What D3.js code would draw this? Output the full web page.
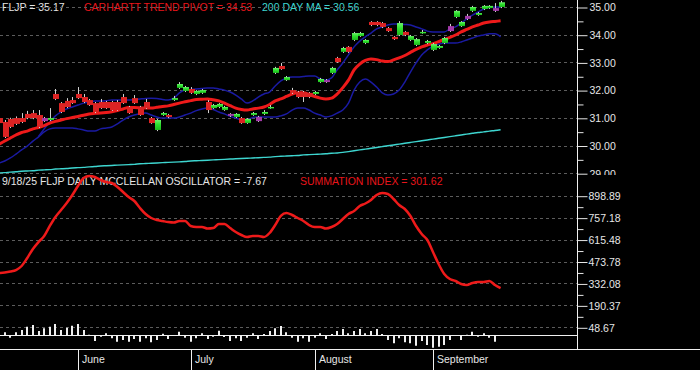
<!DOCTYPE html>
<html><head><meta charset="utf-8">
<script src="https://cdn.jsdelivr.net/npm/d3@7"></script>
<style>html,body{margin:0;padding:0;background:#000;overflow:hidden}svg{display:block}</style>
</head><body><svg id="c" width="700" height="370"></svg>
<script>
// ---- data (bar index 0 = mid-May 2025 ... 89 = 9/18/25) ----
const opens = [30.99,30.85,30.96,30.99,30.99,31.14,31.17,31.10,30.99,30.92,
31.86,31.53,31.61,31.64,31.86,31.75,31.64,31.53,31.57,31.57,
31.57,31.57,31.75,31.39,31.71,31.39,31.57,30.99,30.56,31.10,
31.10,31.64,32.08,31.97,32.04,31.86,31.90,31.57,31.35,31.39,
31.28,31.14,31.03,30.99,30.81,31.10,31.03,31.14,31.35,32.62,
32.87,32.36,32.00,31.93,31.93,31.90,31.86,32.29,32.36,32.62,
33.16,33.38,33.56,33.81,33.95,33.70,34.46,34.46,34.42,34.24,
33.92,33.99,34.10,33.81,33.63,34.06,33.70,33.45,33.52,33.70,
34.31,34.64,34.31,34.68,34.86,34.71,34.93,34.96,34.96,35.00];
const highs = [31.03,30.92,31.00,31.05,31.17,31.25,31.28,31.28,31.03,31.35,
32.04,31.57,31.71,31.75,32.11,31.86,31.68,31.57,31.68,31.61,
31.61,31.64,31.86,31.43,31.82,31.43,31.68,31.03,30.96,31.21,
31.14,31.79,32.29,32.15,32.11,32.00,32.04,31.64,31.50,31.53,
31.43,31.17,31.17,31.03,30.99,31.21,31.07,31.28,31.46,32.84,
32.98,32.51,32.08,31.97,31.97,31.93,31.97,32.44,32.40,32.84,
33.20,33.56,33.59,34.10,34.10,33.84,34.49,34.49,34.46,34.28,
33.95,34.49,34.13,33.99,33.88,34.17,33.81,33.70,33.63,33.92,
34.39,34.89,34.49,34.75,35.04,34.82,35.07,35.07,35.14,35.22];
const lows = [30.77,30.27,30.63,30.74,30.81,30.95,30.95,30.63,30.85,30.88,
31.64,31.17,31.35,31.50,31.68,31.53,31.43,31.17,31.32,31.32,
31.25,31.25,31.50,31.14,31.50,31.07,31.32,30.78,30.52,31.07,
30.99,31.61,32.04,31.93,31.86,31.82,31.86,31.17,31.32,31.35,
31.25,31.03,30.99,30.78,30.78,31.07,30.85,31.10,31.32,32.58,
32.73,32.33,31.86,31.71,31.57,31.71,31.82,32.26,32.26,32.58,
32.98,33.34,33.34,33.77,33.92,33.66,34.31,34.31,34.24,34.10,
33.81,33.95,33.95,33.77,33.59,34.03,33.66,33.41,33.49,33.66,
34.10,34.60,34.28,34.53,34.82,34.68,34.89,34.93,34.82,34.96];
const closes = [30.81,30.31,30.67,30.78,30.85,30.99,30.99,30.67,30.88,30.99,
31.68,31.21,31.39,31.53,31.71,31.57,31.46,31.21,31.35,31.35,
31.28,31.28,31.53,31.17,31.53,31.10,31.35,30.81,30.92,31.17,
31.03,31.71,32.22,32.11,31.90,31.97,32.00,31.28,31.46,31.50,
31.39,31.07,31.14,30.81,30.96,31.17,30.88,31.21,31.39,32.80,
32.76,32.47,31.90,31.75,31.75,31.75,31.93,32.40,32.29,32.80,
33.01,33.52,33.38,34.06,34.06,33.81,34.35,34.35,34.28,34.13,
33.84,34.42,33.99,33.95,33.84,34.10,33.77,33.66,33.59,33.88,
34.13,34.86,34.46,34.57,35.00,34.78,35.04,35.04,34.86,35.17];
const neutralBars = [8,41,46,58,80,83,88];
const pivot = [30.04,30.16,30.27,30.38,30.47,30.52,30.60,30.65,30.72,30.81,
30.87,30.92,30.97,31.01,31.05,31.09,31.14,31.16,31.17,31.19,
31.22,31.26,31.32,31.37,31.37,31.36,31.35,31.35,31.38,31.41,
31.43,31.48,31.53,31.58,31.62,31.66,31.67,31.68,31.65,31.61,
31.53,31.44,31.35,31.30,31.28,31.32,31.35,31.39,31.48,31.61,
31.68,31.77,31.86,31.90,31.90,31.84,31.77,31.71,31.68,31.71,
31.86,32.09,32.36,32.73,32.94,33.07,33.12,33.10,33.05,33.03,
33.09,33.16,33.25,33.36,33.47,33.56,33.63,33.68,33.75,33.83,
33.90,33.99,34.10,34.19,34.28,34.35,34.42,34.46,34.48,34.50];
const upperBand = [null,null,null,null,null,null,null,30.33,30.60,30.85,
31.07,31.21,31.32,31.39,31.46,31.53,31.57,31.61,31.61,31.62,
31.64,31.64,31.64,31.64,31.66,31.68,31.70,31.71,31.70,31.66,
31.64,31.71,31.90,32.00,32.02,32.04,32.06,32.08,32.08,32.04,
32.00,31.93,31.82,31.68,31.53,31.61,31.75,31.86,31.93,32.15,
32.33,32.44,32.47,32.47,32.49,32.51,32.51,32.40,32.36,32.44,
32.73,32.98,33.27,33.56,33.77,33.92,34.06,34.21,34.28,34.35,
34.39,34.39,34.37,34.35,34.28,34.21,34.13,34.10,34.10,34.10,
34.21,34.28,34.42,34.57,34.71,34.82,34.93,34.98,35.00,35.00];
const lowerBand = [29.37,29.44,29.55,29.69,29.84,29.98,30.16,30.31,30.49,30.60,
30.63,30.63,30.63,30.63,30.60,30.56,30.52,30.52,30.60,30.63,
30.67,30.78,30.92,31.03,31.10,31.15,31.17,31.10,31.03,30.99,
30.99,30.99,31.03,31.10,31.17,31.26,31.32,31.35,31.30,31.21,
31.14,31.05,30.99,30.93,30.92,31.01,31.03,31.03,31.03,31.03,
31.07,31.14,31.28,31.35,31.35,31.28,31.17,31.10,31.03,31.07,
31.17,31.28,31.53,32.00,32.29,32.40,32.29,32.11,31.90,31.82,
31.86,32.00,32.29,32.65,32.98,33.27,33.45,33.59,33.66,33.70,
33.70,33.70,33.74,33.81,33.88,33.95,33.99,34.03,34.03,33.92];
const ma200 = [29.01,29.02,29.04,29.05,29.07,29.08,29.09,29.11,29.12,29.13,
29.15,29.16,29.17,29.19,29.20,29.21,29.23,29.24,29.26,29.27,
29.28,29.29,29.30,29.31,29.32,29.34,29.35,29.36,29.37,29.38,
29.39,29.40,29.41,29.42,29.44,29.45,29.46,29.47,29.48,29.49,
29.50,29.51,29.52,29.53,29.54,29.55,29.56,29.57,29.58,29.60,
29.61,29.62,29.63,29.64,29.66,29.67,29.68,29.69,29.70,29.72,
29.73,29.75,29.78,29.81,29.84,29.87,29.90,29.93,29.96,29.99,
30.02,30.05,30.08,30.11,30.14,30.17,30.20,30.23,30.26,30.29,
30.32,30.35,30.38,30.41,30.44,30.47,30.49,30.52,30.54,30.57];
const summation = [399.4,402.7,409.1,418.8,444.6,496.3,554.5,599.7,638.5,703.3,
761.3,806.5,851.7,903.4,961.6,1013.3,1026.2,1019.7,1000.3,987.4,
980.9,955.1,922.8,890.5,864.6,819.4,780.6,754.8,741.9,735.4,
728.9,725.7,735.4,735.4,703.1,696.6,696.6,686.9,690.2,716.0,
716.0,690.2,664.3,645.0,632.0,638.5,638.5,632.0,657.9,709.6,
768.8,787.1,774.2,754.8,735.4,709.6,696.6,696.6,686.9,696.6,
716.0,748.3,780.6,800.0,832.3,848.5,871.1,903.4,916.3,909.9,
877.6,838.8,813.0,767.7,703.1,651.4,612.6,535.1,457.5,392.9,
360.6,347.7,328.3,321.9,334.8,341.3,341.3,347.7,321.9,301.62];
const oscillator = [58,22,-22,22,40,66,80,32,54,66,
88,40,58,74,88,40,2,-48,-14,14,
-26,-54,-40,-54,-32,-54,-26,-58,-40,10,
-32,-2,26,-22,-54,-26,14,-32,-14,34,
-16,-48,-26,-48,-22,14,-32,8,32,54,
72,22,-22,-54,-26,-54,-22,14,-32,8,
32,48,14,32,48,14,32,48,8,-40,
-66,-26,-58,-66,-86,-48,-80,-102,-94,-80,
-40,-2,-40,2,26,-14,14,-22,-54,-7.67];
const priceTicks = [29,30,31,32,33,34,35];
const sumTicks = [48.67,190.37,332.08,473.78,615.48,757.18,898.89];
const months = ["June","July","August","September"];
const monthStart = [14,34,56,77];
const headerTop = [
  {t:"FLJP = 35.17", c:"#e6e6e6"},
  {t:"CARHARTT  TREND PIVOT = 34.53", c:"#e8151b"},
  {t:"200 DAY MA = 30.56", c:"#3ed6d0"}];
const headerBottom = [
  {t:"9/18/25  FLJP DAILY MCCLELLAN OSCILLATOR = -7.67", c:"#e6e6e6"},
  {t:"SUMMATION INDEX = 301.62", c:"#e8151b"}];

// ---- drawing ----
(function () {
const W = 700, H = 370, AX = 577;
const FONT = "'Liberation Sans', Arial, sans-serif";
const svg = d3.select("#c");
svg.append("rect").attr("width", W).attr("height", H).attr("fill", "#000");

const defs = svg.append("defs");
const gUp = defs.append("linearGradient").attr("id", "gUp").attr("x1", 0).attr("x2", 0).attr("y1", 0).attr("y2", 1);
gUp.append("stop").attr("offset", "0%").attr("stop-color", "#6cf26c");
gUp.append("stop").attr("offset", "45%").attr("stop-color", "#2ee02e");
gUp.append("stop").attr("offset", "100%").attr("stop-color", "#1cb81c");

const bars = d3.range(closes.length);
const x = d3.scaleLinear().domain([0, bars.length - 1]).range([-0.9, 500.6]);
const yP = d3.scaleLinear().domain([29, 35]).range([173.2, 7]);
const yS = d3.scaleLinear().domain([48.67, 898.89]).range([327.3, 195.7]);
const yO = d3.scaleLinear().domain([-120, 120]).range([350, 320]);
const crisp = v => Math.round(v) + 0.5;

// ---------- top panel ----------
const gTop = svg.append("g");
const hdrX = [2, 84, 262];
gTop.selectAll("text.h").data(headerTop).join("text")
  .attr("x", (d, i) => hdrX[i]).attr("y", 11)
  .attr("fill", d => d.c).attr("font-family", FONT).attr("font-size", 10.5)
  .text(d => d.t);

gTop.selectAll("line.g").data(priceTicks).join("line")
  .attr("x1", 0).attr("x2", AX).attr("y1", d => crisp(yP(d))).attr("y2", d => crisp(yP(d)))
  .attr("stroke", "#5c5c5c").attr("stroke-dasharray", "3,3");

const line = (scale) => d3.line().defined(d => d != null)
  .x((d, i) => x(i)).y(d => scale(d)).curve(d3.curveMonotoneX);

gTop.append("path").attr("d", line(yP)(ma200)).attr("fill", "none")
  .attr("stroke", "#3ed6d0").attr("stroke-width", 1.4);
gTop.append("path").attr("d", line(yP)(upperBand)).attr("fill", "none")
  .attr("stroke", "#1a1aa2").attr("stroke-width", 1.5);
gTop.append("path").attr("d", line(yP)(lowerBand)).attr("fill", "none")
  .attr("stroke", "#1a1aa2").attr("stroke-width", 1.5);
gTop.append("path").attr("d", line(yP)(pivot)).attr("fill", "none")
  .attr("stroke", "#ee1a1a").attr("stroke-width", 3);

const cg = gTop.append("g");
cg.selectAll("line").data(bars).join("line")
  .attr("x1", i => crisp(x(i))).attr("x2", i => crisp(x(i)))
  .attr("y1", i => yP(highs[i])).attr("y2", i => yP(lows[i]))
  .attr("stroke", "#d0d0d0").attr("stroke-width", 1);
cg.selectAll("rect").data(bars).join("rect")
  .attr("x", i => Math.round(x(i)) - 2).attr("width", 6)
  .attr("y", i => yP(Math.max(opens[i], closes[i])))
  .attr("height", i => Math.max(1.5, yP(Math.min(opens[i], closes[i])) - yP(Math.max(opens[i], closes[i]))))
  .attr("fill", i => neutralBars.includes(i) ? "#a33aa8" : (closes[i] >= opens[i] ? "url(#gUp)" : "#dc2323"));

// price axis
const minorP = d3.pairs(priceTicks).map(([a, b]) => (a + b) / 2);
const axP = svg.append("g").attr("transform", `translate(${AX + 0.5},0.5)`);
axP.call(d3.axisRight(yP).tickValues(priceTicks).tickFormat(d3.format(".2f")).tickSize(10).tickPadding(2));
const axPm = svg.append("g").attr("transform", `translate(${AX + 0.5},0.5)`);
axPm.call(d3.axisRight(yP).tickValues(minorP).tickFormat("").tickSize(6));
[axP, axPm].forEach(a => {
  a.select(".domain").remove();
  a.selectAll("line").attr("stroke", "#e6e6e6");
  a.selectAll("text").attr("fill", "#e6e6e6").attr("font-family", FONT).attr("font-size", 10.5);
});

// ---------- bottom panel ----------
svg.append("rect").attr("x", 0).attr("y", 175).attr("width", W).attr("height", 175).attr("fill", "#000");
const bot = svg.append("g");
bot.selectAll("line.g").data(sumTicks).join("line")
  .attr("x1", 0).attr("x2", AX).attr("y1", d => crisp(yS(d))).attr("y2", d => crisp(yS(d)))
  .attr("stroke", "#5c5c5c").attr("stroke-dasharray", "3,3");
const hdrBX = [2, 300];
bot.selectAll("text.h").data(headerBottom).join("text")
  .attr("x", (d, i) => hdrBX[i]).attr("y", 185)
  .attr("fill", d => d.c).attr("font-family", FONT).attr("font-size", 10.5)
  .text(d => d.t);

bot.selectAll("rect.o").data(bars).join("rect")
  .attr("x", i => Math.round(x(i)) - 1).attr("width", 2)
  .attr("y", i => Math.min(yO(0), yO(oscillator[i])))
  .attr("height", i => Math.abs(yO(oscillator[i]) - yO(0)))
  .attr("fill", "#f0f0f0");
bot.append("line").attr("x1", 0).attr("x2", AX).attr("y1", crisp(yO(0))).attr("y2", crisp(yO(0)))
  .attr("stroke", "#f0f0f0").attr("stroke-width", 1);

bot.append("path").attr("d", line(yS)(summation)).attr("fill", "none")
  .attr("stroke", "#ee1a1a").attr("stroke-width", 2.5);

const minorS = d3.pairs(sumTicks).map(([a, b]) => (a + b) / 2);
const axS = svg.append("g").attr("transform", `translate(${AX + 0.5},0.5)`);
axS.call(d3.axisRight(yS).tickValues(sumTicks).tickFormat(d => d.toFixed(2)).tickSize(10).tickPadding(1));
const axSm = svg.append("g").attr("transform", `translate(${AX + 0.5},0.5)`);
axSm.call(d3.axisRight(yS).tickValues(minorS).tickFormat("").tickSize(6));
[axS, axSm].forEach(a => {
  a.select(".domain").remove();
  a.selectAll("line").attr("stroke", "#e6e6e6");
  a.selectAll("text").attr("fill", "#e6e6e6").attr("font-family", FONT).attr("font-size", 10.5);
});

// frame
svg.append("line").attr("x1", AX + 0.5).attr("x2", AX + 0.5).attr("y1", 0).attr("y2", 350)
  .attr("stroke", "#f0f0f0");
svg.append("line").attr("x1", 0).attr("x2", W).attr("y1", 349.5).attr("y2", 349.5)
  .attr("stroke", "#f0f0f0");

// month axis
const mg = svg.append("g");
mg.selectAll("line").data(monthStart).join("line")
  .attr("x1", d => crisp(x(d))).attr("x2", d => crisp(x(d))).attr("y1", 350).attr("y2", H)
  .attr("stroke", "#f0f0f0");
mg.selectAll("text").data(months).join("text")
  .attr("x", (d, i) => Math.round(x(monthStart[i])) + 4).attr("y", 363)
  .attr("fill", "#e6e6e6").attr("font-family", FONT).attr("font-size", 10.5)
  .text(d => d);
})();
</script>
</body></html>
